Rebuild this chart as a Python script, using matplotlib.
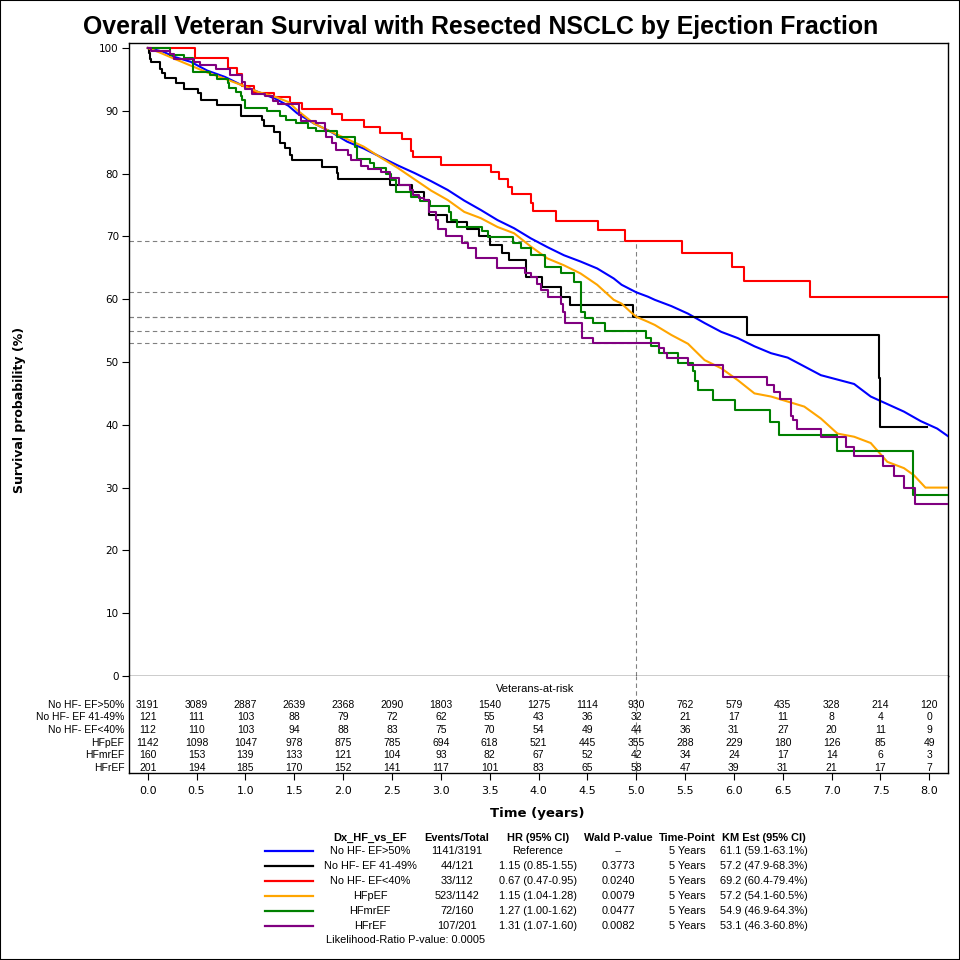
import matplotlib
matplotlib.use("Agg")
import matplotlib.pyplot as plt
from matplotlib.transforms import blended_transform_factory
from matplotlib.patches import Rectangle

# ---------------- data ----------------
groups = ["No HF- EF>50%", "No HF- EF 41-49%", "No HF- EF<40%", "HFpEF", "HFmrEF", "HFrEF"]
colors = ["#0000FF", "#000000", "#FF0000", "#FFA500", "#008000", "#800080"]

# No HF- EF>50% (many small steps; read at intervals)
blue_pts = [(0, 100), (0.16, 99.4), (0.27, 98.6), (0.44, 97.8), (0.61, 96.4), (0.79, 95.4),
            (0.96, 94.1), (1.13, 93.0), (1.31, 91.9), (1.44, 90.8), (1.53, 89.6), (1.70, 88.0),
            (1.87, 86.7), (2.04, 85.1), (2.21, 84.0), (2.39, 82.6), (2.56, 81.3), (2.73, 80.1),
            (2.90, 78.8), (3.07, 77.4), (3.24, 75.7), (3.41, 74.2), (3.58, 72.6), (3.75, 71.3),
            (3.92, 69.7), (4.09, 68.3), (4.26, 67.0), (4.43, 66.0), (4.60, 64.9), (4.77, 63.3),
            (4.85, 62.3), (5.00, 61.1), (5.12, 60.4), (5.19, 59.9), (5.36, 58.9), (5.53, 57.7),
            (5.70, 56.2), (5.87, 54.8), (6.04, 53.8), (6.21, 52.5), (6.38, 51.4), (6.55, 50.7),
            (6.72, 49.3), (6.89, 47.9), (7.06, 47.2), (7.23, 46.5), (7.40, 44.5), (7.57, 43.3),
            (7.74, 42.1), (7.91, 40.6), (8.08, 39.4), (8.19, 38.2)]

# No HF- EF 41-49%
black_pts = [(0, 100), (0.01, 99.2), (0.02, 98.3), (0.03, 97.7), (0.13, 96.6), (0.15, 96.0),
             (0.18, 95.2), (0.29, 94.4), (0.37, 93.5), (0.51, 92.8), (0.55, 91.7), (0.71, 90.9),
             (0.95, 89.2), (1.17, 88.5), (1.19, 87.6), (1.29, 86.7), (1.35, 84.9), (1.41, 84.0),
             (1.46, 83.0), (1.48, 82.1), (1.78, 81.1), (1.94, 80.1), (1.95, 79.2), (2.48, 78.2),
             (2.71, 77.0), (2.83, 75.8), (2.88, 73.4), (3.06, 72.3), (3.27, 71.1), (3.39, 70.0),
             (3.50, 68.6), (3.63, 67.4), (3.70, 66.2), (3.87, 63.6), (4.04, 62.0), (4.23, 60.4),
             (4.32, 59.0), (4.97, 57.2), (6.13, 54.3), (7.48, 47.4), (7.49, 39.7), (7.98, 39.7)]

# No HF- EF<40%
red_pts = [(0, 100), (0.48, 98.4), (0.82, 96.8), (0.91, 95.8), (0.97, 94.0), (1.09, 92.9),
           (1.29, 92.2), (1.46, 91.3), (1.58, 90.3), (1.89, 89.5), (1.99, 88.5), (2.21, 87.5),
           (2.38, 86.5), (2.60, 85.5), (2.69, 83.6), (2.72, 82.6), (3.00, 81.4), (3.51, 80.3),
           (3.60, 79.2), (3.69, 77.9), (3.73, 76.7), (3.92, 75.3), (3.94, 74.1), (4.18, 72.5),
           (4.61, 71.0), (4.88, 69.2), (5.47, 67.4), (5.98, 65.2), (6.10, 62.9), (6.78, 60.4),
           (8.19, 60.4)]

# HFpEF (many small steps; read at intervals)
orange_pts = [(0, 100), (0.12, 99.3), (0.27, 98.3), (0.44, 97.2), (0.61, 96.1), (0.79, 95.1),
              (0.96, 94.1), (1.13, 93.0), (1.31, 92.2), (1.44, 91.4), (1.53, 90.1), (1.70, 88.0),
              (1.87, 86.7), (2.04, 85.5), (2.21, 84.3), (2.39, 82.5), (2.56, 80.9), (2.73, 79.1),
              (2.90, 77.3), (3.07, 75.8), (3.24, 73.9), (3.41, 72.9), (3.58, 71.5), (3.75, 70.5),
              (3.92, 68.4), (4.09, 66.5), (4.26, 65.4), (4.43, 64.1), (4.60, 62.3), (4.77, 59.9),
              (4.85, 59.3), (4.94, 58.0), (5.00, 57.2), (5.12, 56.4), (5.19, 55.9), (5.36, 54.3),
              (5.53, 52.9), (5.70, 50.3), (5.87, 49.0), (6.04, 47.1), (6.21, 45.0), (6.38, 44.5),
              (6.55, 43.7), (6.72, 42.9), (6.89, 41.0), (7.06, 38.6), (7.23, 38.1), (7.40, 37.1),
              (7.57, 34.1), (7.74, 33.1), (7.84, 32.0), (7.96, 30.0), (8.19, 30.0)]

# HFmrEF
green_pts = [(0, 100), (0.23, 98.9), (0.37, 98.4), (0.46, 96.2), (0.64, 95.7), (0.71, 95.0),
             (0.82, 94.4), (0.83, 93.7), (0.90, 93.0), (0.95, 92.4), (0.97, 91.7), (1.00, 90.5),
             (1.22, 89.9), (1.35, 89.2), (1.42, 88.5), (1.52, 88.0), (1.64, 87.2), (1.72, 86.8),
             (1.94, 85.9), (2.12, 84.3), (2.14, 82.4), (2.28, 81.7), (2.32, 80.9), (2.44, 80.0),
             (2.49, 79.0), (2.54, 77.1), (2.69, 76.3), (2.79, 75.7), (2.89, 74.8), (3.08, 73.9),
             (3.10, 72.6), (3.17, 71.5), (3.42, 70.8), (3.48, 69.9), (3.74, 69.0), (3.82, 68.1),
             (3.92, 67.0), (4.07, 65.2), (4.23, 64.1), (4.36, 62.8), (4.43, 58.0), (4.48, 57.0),
             (4.56, 56.2), (4.68, 54.9), (5.10, 53.8), (5.15, 52.5), (5.23, 51.4), (5.43, 49.9),
             (5.58, 48.6), (5.60, 47.0), (5.63, 45.5), (5.79, 43.9), (6.01, 42.4), (6.37, 40.5),
             (6.46, 38.4), (7.05, 35.9), (7.83, 28.8), (8.19, 28.8)]

# HFrEF
purple_pts = [(0, 100), (0.03, 99.6), (0.23, 99.0), (0.27, 98.2), (0.47, 97.7), (0.54, 97.3),
              (0.70, 96.7), (0.84, 95.7), (0.97, 94.6), (1.00, 93.5), (1.07, 92.7), (1.20, 92.3),
              (1.28, 91.6), (1.33, 91.1), (1.55, 89.3), (1.57, 88.3), (1.72, 88.0), (1.81, 86.9),
              (1.82, 85.9), (1.89, 84.8), (1.93, 83.8), (2.05, 83.0), (2.08, 82.1), (2.18, 81.2),
              (2.25, 80.8), (2.39, 80.3), (2.48, 79.3), (2.57, 78.2), (2.68, 77.4), (2.72, 76.6),
              (2.78, 76.1), (2.83, 75.8), (2.88, 73.9), (2.95, 72.6), (2.97, 71.1), (3.05, 70.1),
              (3.22, 68.9), (3.28, 68.1), (3.36, 66.6), (3.57, 64.9), (3.86, 64.1), (3.92, 63.6),
              (3.98, 62.5), (4.03, 61.5), (4.10, 60.4), (4.23, 59.3), (4.25, 58.0), (4.27, 56.2),
              (4.44, 54.8), (4.45, 53.8), (4.56, 53.1), (5.23, 52.3), (5.28, 51.4), (5.32, 50.6),
              (5.53, 49.6), (5.89, 47.6), (6.34, 46.4), (6.41, 45.3), (6.47, 44.1), (6.58, 41.4),
              (6.60, 40.8), (6.65, 39.4), (6.89, 38.1), (7.15, 36.5), (7.23, 35.1), (7.53, 33.5),
              (7.64, 31.8), (7.74, 29.9), (7.85, 27.4), (8.19, 27.4)]

curves = [blue_pts, black_pts, red_pts, orange_pts, green_pts, purple_pts]
fine_steps = [True, False, False, True, False, False]

risk_times = [0.0, 0.5, 1.0, 1.5, 2.0, 2.5, 3.0, 3.5, 4.0, 4.5, 5.0, 5.5, 6.0, 6.5, 7.0, 7.5, 8.0]
risk_ef50 = [3191, 3089, 2887, 2639, 2368, 2090, 1803, 1540, 1275, 1114, 930, 762, 579, 435, 328, 214, 120]
risk_ef4149 = [121, 111, 103, 88, 79, 72, 62, 55, 43, 36, 32, 21, 17, 11, 8, 4, 0]
risk_ef40 = [112, 110, 103, 94, 88, 83, 75, 70, 54, 49, 44, 36, 31, 27, 20, 11, 9]
risk_hfpef = [1142, 1098, 1047, 978, 875, 785, 694, 618, 521, 445, 355, 288, 229, 180, 126, 85, 49]
risk_hfmref = [160, 153, 139, 133, 121, 104, 93, 82, 67, 52, 42, 34, 24, 17, 14, 6, 3]
risk_hfref = [201, 194, 185, 170, 152, 141, 117, 101, 83, 65, 58, 47, 39, 31, 21, 17, 7]
risk_rows = [risk_ef50, risk_ef4149, risk_ef40, risk_hfpef, risk_hfmref, risk_hfref]

events = ["1141/3191", "44/121", "33/112", "523/1142", "72/160", "107/201"]
hr_ci = ["Reference", "1.15 (0.85-1.55)", "0.67 (0.47-0.95)", "1.15 (1.04-1.28)",
         "1.27 (1.00-1.62)", "1.31 (1.07-1.60)"]
wald_p = ["--", "0.3773", "0.0240", "0.0079", "0.0477", "0.0082"]
time_point = ["5 Years"] * 6
km_est = [61.1, 57.2, 69.2, 57.2, 54.9, 53.1]
km_ci = ["59.1-63.1%", "47.9-68.3%", "60.4-79.4%", "54.1-60.5%", "46.9-64.3%", "46.3-60.8%"]
lr_p = "0.0005"
y_ticks = [0, 10, 20, 30, 40, 50, 60, 70, 80, 90, 100]
landmark = 5.0

# ---------------- figure ----------------
W = H = 960.0
fig = plt.figure(figsize=(9.6, 9.6), dpi=100)

def fx(px):
    return px / W

def fy(py):
    return 1 - py / H

L, R = 128.5, 948.3
TOP, MID, BOT = 43.3, 676.0, 773.0
XMIN, XMAX = -0.1965, 8.194

ax = fig.add_axes([fx(L), fy(MID), (R - L) / W, (MID - TOP) / H])
axt = fig.add_axes([fx(L), fy(BOT), (R - L) / W, (BOT - MID) / H], sharex=ax)

for pts, c, fine in zip(curves, colors, fine_steps):
    t = [p[0] for p in pts]
    s = [p[1] for p in pts]
    if fine:
        ax.plot(t, s, color=c, lw=1.5, solid_joinstyle="miter", zorder=3)
    else:
        ax.step(t, s, where="post", color=c, lw=1.5, zorder=3)

dash_kw = dict(color="#808080", lw=0.8, linestyle=(0, (4, 3)), zorder=2)
for v in km_est:
    ax.plot([XMIN, landmark], [v, v], **dash_kw)
ax.plot([landmark, landmark], [0, max(km_est)], **dash_kw)
axt.axvline(landmark, **dash_kw)

ax.set_xlim(XMIN, XMAX)
ax.set_ylim(0, (MID - TOP) / 6.28)
ax.set_yticks(y_ticks)
ax.set_yticklabels([str(v) for v in y_ticks], fontsize=7.5)
ax.tick_params(axis="y", direction="out", length=5, width=0.8, pad=2)
ax.tick_params(axis="x", bottom=False, labelbottom=False)
for sp in ax.spines.values():
    sp.set_linewidth(1.0)

# at-risk table
axt.set_ylim(BOT, MID)
axt.set_yticks([])
axt.set_xticks(risk_times)
axt.set_xticklabels([f"{v:.1f}" for v in risk_times], fontsize=8)
axt.tick_params(axis="x", direction="out", length=5, width=0.8, pad=4)
for sp in axt.spines.values():
    sp.set_linewidth(1.0)
axt.spines["top"].set_visible(False)

axt.text((XMIN + XMAX) / 2 - 0.03, 689, "Veterans-at-risk", ha="center", va="center",
         fontsize=8, family="Liberation Sans")
row_y = [705, 717.5, 730.5, 743, 755.5, 768]
lab_tr = blended_transform_factory(axt.transAxes, axt.transData)
for name, yv, vals in zip(groups, row_y, risk_rows):
    axt.text(-0.005, yv, name, transform=lab_tr, ha="right", va="center",
             fontsize=7.5, family="Liberation Sans")
    for tt, n in zip(risk_times, vals):
        axt.text(tt, yv, str(n), ha="center", va="center", fontsize=7.5,
                 family="Liberation Sans")

# labels
fig.text(fx(20), fy(410), "Survival probability (%)", rotation=90, ha="center", va="center",
         fontsize=9.0, fontweight="bold")
fig.text(fx(537), fy(813), "Time (years)", ha="center", va="center",
         fontsize=9.5, fontweight="bold")

title = fig.text(fx(481), fy(27), "Overall Veteran Survival with Resected NSCLC by Ejection Fraction",
                 ha="center", va="center", fontsize=17, fontweight="bold", family="Liberation Sans")
fig.canvas.draw()
w = title.get_window_extent().width
title.set_fontsize(17 * 799.0 / w)

# legend table
hdr_y = 838
rows_y = [851, 866, 881, 896, 911, 926]
cols = [370, 457, 538, 618, 687.5, 764]
headers = ["Dx_HF_vs_EF", "Events/Total", "HR (95% CI)", "Wald P-value", "Time-Point", "KM Est (95% CI)"]
for cx, h in zip(cols, headers):
    fig.text(fx(cx), fy(hdr_y), h, ha="center", va="center", fontsize=7.9,
             fontweight="bold", family="Liberation Sans")
for i, yv in enumerate(rows_y):
    fig.add_artist(plt.Line2D([fx(265), fx(313)], [fy(yv), fy(yv)], color=colors[i], lw=1.6))
    cells = [groups[i], events[i], hr_ci[i], wald_p[i], time_point[i],
             f"{km_est[i]:.1f} ({km_ci[i]})"]
    for cx, txt in zip(cols, cells):
        fig.text(fx(cx), fy(yv), txt, ha="center", va="center", fontsize=7.9,
                 family="Liberation Sans")
fig.text(fx(326), fy(940), f"Likelihood-Ratio P-value: {lr_p}", ha="left", va="center",
         fontsize=7.9, family="Liberation Sans")

fig.patches.append(Rectangle((0, 0), 1, 1, transform=fig.transFigure, fill=False,
                             lw=1.5, edgecolor="#000000"))

fig.savefig("out.png", dpi=100)
